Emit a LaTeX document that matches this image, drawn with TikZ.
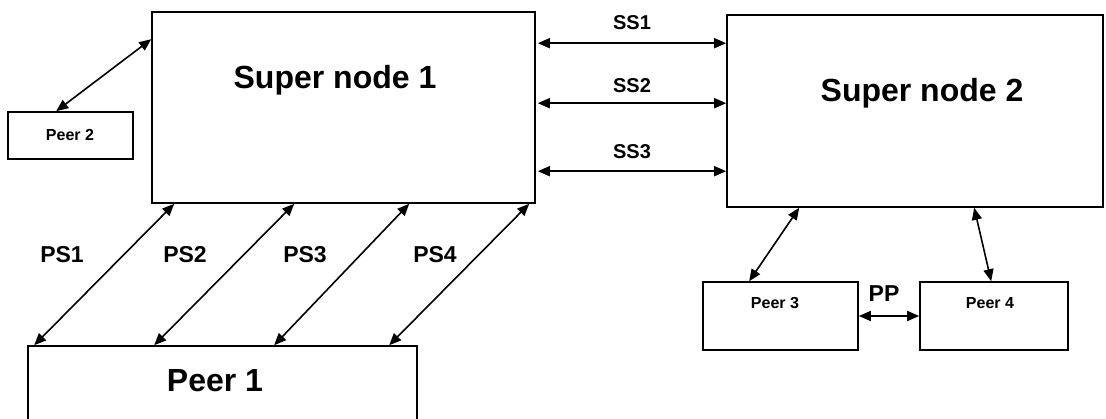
\documentclass[tikz,border=0pt]{standalone}
\usepackage{fontspec}
\setmainfont{Liberation Sans}
\usetikzlibrary{arrows.meta,calc}
\begin{document}
\begin{tikzpicture}[x=1pt,y=-1pt,
  box/.style={draw=black,line width=1.6pt,fill=white,inner sep=0pt},
  link/.style={line width=1.6pt,{Triangle[length=12pt,width=10pt]}-{Triangle[length=12pt,width=10pt]}},
  big/.style={font=\fontsize{32}{36}\selectfont\bfseries},
  mid/.style={font=\fontsize{23}{27}\selectfont\bfseries},
  ss/.style={font=\fontsize{20}{24}\selectfont\bfseries},
  small/.style={font=\fontsize{16}{19}\selectfont\bfseries}]
\useasboundingbox (0,0) rectangle (1106,419);
% boxes
\node[box,minimum width=383pt,minimum height=191pt] (sn1) at (343.5,107.5) {};
\node[box,minimum width=376pt,minimum height=192pt] (sn2) at (915,111) {};
\node[box,minimum width=125pt,minimum height=47pt] (p2) at (70.5,135.5) {};
\node[box,minimum width=389pt,minimum height=80pt] (p1) at (222.5,386) {};
\node[box,minimum width=155pt,minimum height=68pt] (p3) at (780.5,316) {};
\node[box,minimum width=148pt,minimum height=68pt] (p4) at (994,316) {};
% texts
\node[big] (t1) at (335,80) {Super node 1};
\node[big] (t2) at (922,93) {Super node 2};
\node[big] (tp1) at (215,381) {Peer 1};
\node[small] (tp2) at (70,135) {Peer 2};
\node[small] (tp3) at (775,303) {Peer 3};
\node[small] (tp4) at (990,303) {Peer 4};
% links super-super
\draw[link] ($(sn1.north east)+(2,32)$) coordinate (a1) -- (a1 -| sn2.west);
\draw[link] ($(sn1.north east)+(2,92)$) coordinate (a2) -- (a2 -| sn2.west);
\draw[link] ($(sn1.north east)+(2,160)$) coordinate (a3) -- (a3 -| sn2.west);
\node[ss] (ss1) at (632,23) {SS1};
\node[ss] (ss2) at (632,86) {SS2};
\node[ss] (ss3) at (632,152) {SS3};
% peer 1 links
\draw[link] ($(sn1.south west)+(23,0)$) -- ($(p1.north west)+(7,0)$);
\draw[link] ($(sn1.south west)+(143,0)$) -- ($(p1.north west)+(127,0)$);
\draw[link] ($(sn1.south west)+(258,0)$) -- ($(p1.north west)+(247,0)$);
\draw[link] ($(sn1.south west)+(378,0)$) -- ($(p1.north west)+(362,0)$);
\node[mid] (ps1) at (62,255) {PS1};
\node[mid] (ps2) at (185,255) {PS2};
\node[mid] (ps3) at (305,255) {PS3};
\node[mid] (ps4) at (435,255) {PS4};
% peer 2
\draw[link] ($(p2.north west)+(49,0)$) -- ($(sn1.north west)+(0,28)$);
% peer 3/4
\draw[link] ($(sn2.south west)+(73,0)$) -- ($(p3.north west)+(47,0)$);
\draw[link] ($(sn2.south west)+(248,0)$) -- ($(p4.north west)+(72,0)$);
\draw[link] (p3.east) -- (p4.west);
\node[mid] (pp) at (884,294) {PP};
\end{tikzpicture}
\end{document}
